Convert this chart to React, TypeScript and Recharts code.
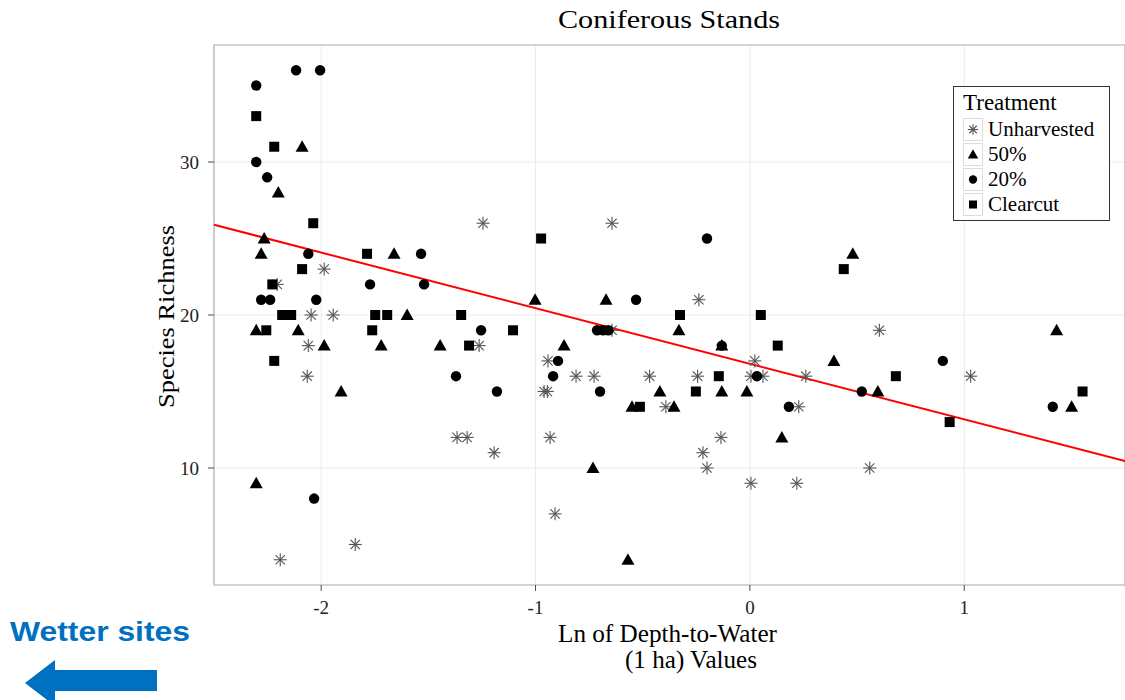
import { ScatterChart, Scatter, XAxis, YAxis, CartesianGrid, ReferenceLine, ReferenceArea } from 'recharts';

type Pt = { x: number; y: number };

const X_DOMAIN: [number, number] = [-2.5, 1.75];
const Y_DOMAIN: [number, number] = [2.35, 37.65];
const X_TICKS = [-2, -1, 0, 1];
const Y_TICKS = [10, 20, 30];

// x = ln of depth-to-water (1 ha), y = species richness
const UNHARVESTED: Pt[] = [
    { x: -1.986, y: 23 }, { x: -2.205, y: 22 }, { x: -2.047, y: 20 }, { x: -1.944, y: 20 },
    { x: -2.06, y: 18 }, { x: -2.065, y: 16 }, { x: -1.841, y: 5 }, { x: -2.191, y: 4 },
    { x: -1.245, y: 26 }, { x: -0.643, y: 26 }, { x: -0.643, y: 19 }, { x: -1.263, y: 18 },
    { x: -0.942, y: 17 }, { x: -0.811, y: 16 }, { x: -0.727, y: 16 }, { x: -0.468, y: 16 },
    { x: -0.96, y: 15 }, { x: -0.945, y: 15 }, { x: -1.366, y: 12 }, { x: -1.319, y: 12 },
    { x: -1.193, y: 11 }, { x: -0.932, y: 12 }, { x: -0.909, y: 7 }, { x: -0.238, y: 21 },
    { x: 0.023, y: 17 }, { x: -0.244, y: 16 }, { x: 0.005, y: 16 }, { x: 0.061, y: 16 },
    { x: 0.261, y: 16 }, { x: -0.392, y: 14 }, { x: 0.228, y: 14 }, { x: 0.604, y: 19 },
    { x: -0.135, y: 12 }, { x: -0.219, y: 11 }, { x: -0.2, y: 10 }, { x: 0.559, y: 10 },
    { x: 0.005, y: 9 }, { x: 0.219, y: 9 }, { x: 1.03, y: 16 },
];

const PCT50: Pt[] = [
    { x: -2.089, y: 31 }, { x: -2.2, y: 28 }, { x: -2.266, y: 25 }, { x: -2.28, y: 24 },
    { x: -1.66, y: 24 }, { x: -1.599, y: 20 }, { x: -2.303, y: 19 }, { x: -2.107, y: 19 },
    { x: -1.986, y: 18 }, { x: -1.72, y: 18 }, { x: -1.445, y: 18 }, { x: -1.907, y: 15 },
    { x: -2.303, y: 9 }, { x: -1.002, y: 21 }, { x: -0.671, y: 21 }, { x: -0.867, y: 18 },
    { x: -0.55, y: 14 }, { x: -0.732, y: 10 }, { x: -0.569, y: 4 }, { x: 0.48, y: 24 },
    { x: -0.331, y: 19 }, { x: -0.131, y: 18 }, { x: 0.392, y: 17 }, { x: -0.42, y: 15 },
    { x: -0.131, y: 15 }, { x: -0.014, y: 15 }, { x: 0.597, y: 15 }, { x: -0.354, y: 14 },
    { x: 0.149, y: 12 }, { x: 1.431, y: 19 }, { x: 1.501, y: 14 },
];

const PCT20: Pt[] = [
    { x: -2.303, y: 35 }, { x: -2.117, y: 36 }, { x: -2.005, y: 36 }, { x: -2.303, y: 30 },
    { x: -2.252, y: 29 }, { x: -2.06, y: 24 }, { x: -1.534, y: 24 }, { x: -1.772, y: 22 },
    { x: -1.52, y: 22 }, { x: -2.28, y: 21 }, { x: -2.238, y: 21 }, { x: -2.023, y: 21 },
    { x: -2.033, y: 8 }, { x: -0.531, y: 21 }, { x: -1.254, y: 19 }, { x: -0.713, y: 19 },
    { x: -0.685, y: 19 }, { x: -0.66, y: 19 }, { x: -0.895, y: 17 }, { x: -1.371, y: 16 },
    { x: -0.918, y: 16 }, { x: -1.18, y: 15 }, { x: -0.699, y: 15 }, { x: -0.2, y: 25 },
    { x: -0.131, y: 18 }, { x: 0.033, y: 16 }, { x: 0.522, y: 15 }, { x: 0.182, y: 14 },
    { x: 0.9, y: 17 }, { x: 1.413, y: 14 },
];

const CLEARCUT: Pt[] = [
    { x: -2.303, y: 33 }, { x: -2.219, y: 31 }, { x: -2.037, y: 26 }, { x: -1.786, y: 24 },
    { x: -2.089, y: 23 }, { x: -2.228, y: 22 }, { x: -2.182, y: 20 }, { x: -2.14, y: 20 },
    { x: -1.748, y: 20 }, { x: -1.692, y: 20 }, { x: -2.256, y: 19 }, { x: -1.762, y: 19 },
    { x: -2.219, y: 17 }, { x: -0.974, y: 25 }, { x: -1.347, y: 20 }, { x: -1.105, y: 19 },
    { x: -1.31, y: 18 }, { x: -0.513, y: 14 }, { x: 0.438, y: 23 }, { x: -0.326, y: 20 },
    { x: 0.051, y: 20 }, { x: 0.13, y: 18 }, { x: -0.145, y: 16 }, { x: -0.252, y: 15 },
    { x: 0.681, y: 16 }, { x: 1.552, y: 15 }, { x: 0.932, y: 13 },
];

// linear fit, drawn across the full x range
const FIT_LINE: Pt[] = [{ x: -2.5, y: 25.9 }, { x: 1.75, y: 10.45 }];

const SERIF = '"Liberation Serif", "DejaVu Serif", serif';

type Kind = 'asterisk' | 'triangle' | 'circle' | 'square';

function Marker({ kind, cx, cy, s = 1 }: { kind: Kind; cx: number; cy: number; s?: number }) {
    if (kind === 'asterisk') {
        const r = 6.5 * s;
        const d = r * 0.72;
        return (
            <g stroke="#555" strokeWidth={1.1}>
                <line x1={cx - r} y1={cy} x2={cx + r} y2={cy} />
                <line x1={cx} y1={cy - r} x2={cx} y2={cy + r} />
                <line x1={cx - d} y1={cy - d} x2={cx + d} y2={cy + d} />
                <line x1={cx - d} y1={cy + d} x2={cx + d} y2={cy - d} />
            </g>
        );
    }
    if (kind === 'triangle') {
        const w = 6.5 * s;
        return <polygon points={`${cx},${cy - 6.5 * s} ${cx - w},${cy + 5 * s} ${cx + w},${cy + 5 * s}`} fill="#000" />;
    }
    if (kind === 'circle') return <circle cx={cx} cy={cy} r={5.2 * s} fill="#000" />;
    return <rect x={cx - 5 * s} y={cy - 5 * s} width={10 * s} height={10 * s} fill="#000" />;
}

const SERIES: { name: string; kind: Kind; data: Pt[] }[] = [
    { name: 'Unharvested', kind: 'asterisk', data: UNHARVESTED },
    { name: '50%', kind: 'triangle', data: PCT50 },
    { name: '20%', kind: 'circle', data: PCT20 },
    { name: 'Clearcut', kind: 'square', data: CLEARCUT },
];

function TreatmentLegend() {
    return (
        <div style={{ position: 'absolute', left: 953, top: 86, border: '1px solid #333', background: '#fff', width: 157, height: 135, boxSizing: 'border-box', padding: '3px 0 0 9px', fontFamily: SERIF, color: '#000' }}>
            <div style={{ fontSize: 23, lineHeight: '26px', marginBottom: 1 }}>Treatment</div>
            {SERIES.map((s) => (
                <div key={s.name} style={{ display: 'flex', alignItems: 'center', height: 25 }}>
                    <svg width={20} height={23} style={{ marginRight: 5 }}>
                        <rect x={0.5} y={0.5} width={19} height={22} fill="#fff" stroke="#ddd" />
                        <Marker kind={s.kind} cx={10} cy={11.5} s={0.8} />
                    </svg>
                    <span style={{ fontSize: 21 }}>{s.name}</span>
                </div>
            ))}
        </div>
    );
}

export default function App() {
    return (
        <div style={{ position: 'fixed', left: 0, top: 0, width: 1125, height: 700, background: '#fff', overflow: 'hidden' }}>
            <ScatterChart width={1125} height={700} margin={{ top: 45, right: 0, bottom: 55, left: 0 }}>
                <CartesianGrid stroke="#ebebeb" strokeWidth={1} />
                <ReferenceArea x1={X_DOMAIN[0]} x2={X_DOMAIN[1]} y1={Y_DOMAIN[0]} y2={Y_DOMAIN[1]} fill="none" stroke="#b3b3b3" strokeWidth={1.2} ifOverflow="visible" />
                <XAxis
                    type="number"
                    dataKey="x"
                    domain={X_DOMAIN}
                    ticks={X_TICKS}
                    allowDataOverflow
                    height={60}
                    axisLine={false}
                    tickSize={6}
                    tickMargin={10}
                    tickLine={{ stroke: '#4d4d4d' }}
                    tick={{ fill: '#222', fontSize: 19, fontFamily: SERIF }}
                />
                <YAxis
                    type="number"
                    dataKey="y"
                    domain={Y_DOMAIN}
                    ticks={Y_TICKS}
                    allowDataOverflow
                    width={214}
                    axisLine={false}
                    tickSize={6}
                    tickMargin={9}
                    tickLine={{ stroke: '#4d4d4d' }}
                    tick={{ fill: '#222', fontSize: 19, fontFamily: SERIF }}
                />
                {SERIES.map((s) => (
                    <Scatter
                        key={s.name}
                        name={s.name}
                        data={s.data}
                        isAnimationActive={false}
                        shape={(p: any) => <Marker kind={s.kind} cx={p.cx} cy={p.cy} />}
                    />
                ))}
                <ReferenceLine segment={FIT_LINE} stroke="#ff0000" strokeWidth={2} ifOverflow="visible" />
            </ScatterChart>
            <TreatmentLegend />
            <svg width={1125} height={700} style={{ position: 'absolute', left: 0, top: 0, pointerEvents: 'none' }}>
                <text x={558} y={28} fontFamily={SERIF} fontSize={26} fill="#000" textLength={222} lengthAdjust="spacingAndGlyphs">
                    Coniferous Stands
                </text>
                <text transform="translate(174,408) rotate(-90)" fontFamily={SERIF} fontSize={24} fill="#000" textLength={183} lengthAdjust="spacingAndGlyphs">
                    Species Richness
                </text>
                <text x={558} y={642} fontFamily={SERIF} fontSize={25} fill="#000" textLength={219} lengthAdjust="spacingAndGlyphs">
                    Ln of Depth-to-Water
                </text>
                <text x={625} y={668} fontFamily={SERIF} fontSize={25} fill="#000" textLength={132} lengthAdjust="spacingAndGlyphs">
                    (1 ha) Values
                </text>
                <text x={10} y={641} fontFamily='"Liberation Sans", Arial, sans-serif' fontWeight="bold" fontSize={28} fill="#0070c0" textLength={180} lengthAdjust="spacingAndGlyphs">
                    Wetter sites
                </text>
                <polygon points="25,683 55,660 55,670 157,670 157,691 55,691 55,706" fill="#0070c0" />
            </svg>
        </div>
    );
}
